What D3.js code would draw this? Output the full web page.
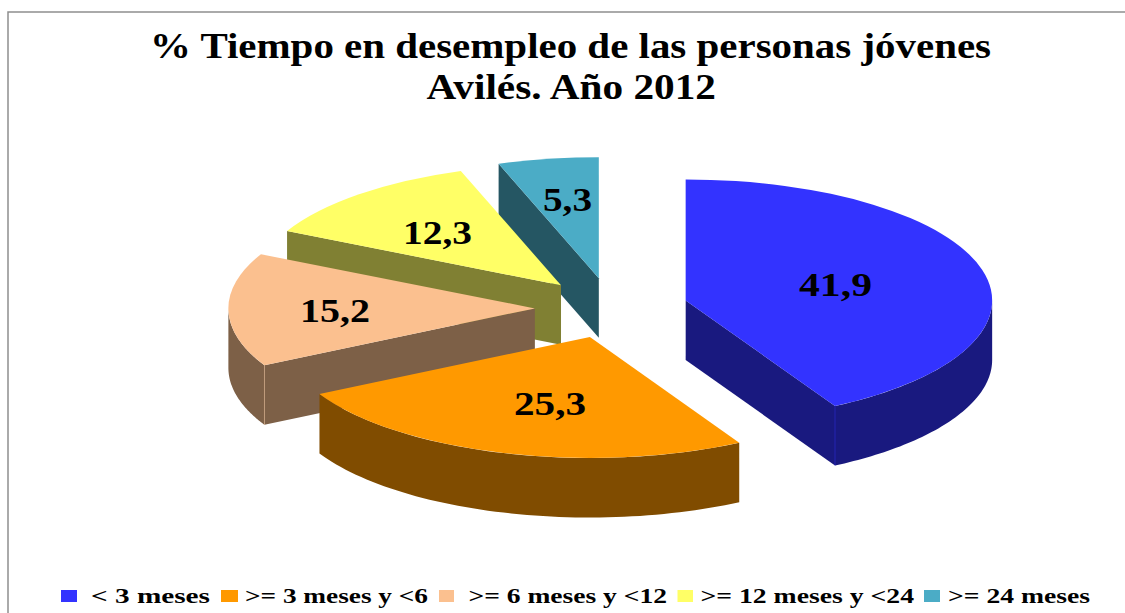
<!DOCTYPE html>
<html>
<head>
<meta charset="utf-8">
<style>
html,body{margin:0;padding:0;background:#fff;overflow:hidden}
svg{display:block}
text{font-family:"Liberation Serif",serif;font-weight:bold;fill:#000}
</style>
<script src="https://cdn.jsdelivr.net/npm/d3@7"></script>
</head>
<body>
<svg id="chart" width="1125" height="613"></svg>
<script>
const titleLines = ["% Tiempo en desempleo de las personas jóvenes", "Avilés. Año 2012"];
const categories = ["< 3 meses", ">= 3 meses y <6", ">= 6 meses y <12", ">= 12 meses y <24", ">= 24 meses"];
const values = [41.9, 25.3, 15.2, 12.3, 5.3];
const valueLabels = ["41,9", "25,3", "15,2", "12,3", "5,3"];
const topColors = ["#3333FF", "#FF9900", "#FBC08F", "#FFFF66", "#4BACC6"];
const sideColors = ["#19197F", "#804C00", "#7D6047", "#808033", "#255663"];

// Layout (style and position only, not data)
const W = 1125, H = 613;
const centre = {x: 611.5, y: 308}, rx = 306.5, ry = 121, depth = 59.5, explode = 0.25;
const titleBoxes = [{x: 150, y: 58, w: 841}, {x: 426.5, y: 99, w: 289.5}];
const labelBoxes = [
  {x: 799, y: 296, w: 73}, {x: 514, y: 415, w: 72}, {x: 300, y: 322, w: 70},
  {x: 403, y: 244, w: 69}, {x: 543, y: 211, w: 49}
];
const legendSwatches = [{x: 61, w: 16}, {x: 221, w: 17}, {x: 439, w: 15}, {x: 677.5, w: 15.5}, {x: 924, w: 16}];
const legendTexts = [{x: 91, w: 119}, {x: 245, w: 183}, {x: 468.5, w: 198.5}, {x: 700.5, w: 213.5}, {x: 948, w: 142}];

const svg = d3.select("#chart");

// Chart frame
svg.append("path")
  .attr("d", d3.line()([[8, H], [8, 12], [W, 12]]))
  .attr("fill", "none").attr("stroke", "#8e8e8e").attr("stroke-width", 1.5);

// Title
svg.selectAll("text.title").data(titleLines).join("text")
  .attr("class", "title")
  .attr("x", (d, i) => titleBoxes[i].x)
  .attr("y", (d, i) => titleBoxes[i].y)
  .attr("font-size", 35)
  .attr("textLength", (d, i) => titleBoxes[i].w)
  .attr("lengthAdjust", "spacingAndGlyphs")
  .text(d => d);

// Pie geometry: d3.pie gives the angles, the scales project them to the tilted ellipse
const pie = d3.pie().sort(null).value(d => d).startAngle(0).endAngle(2 * Math.PI);
const arcs = pie(values);
const sx = d3.scaleLinear().domain([-1, 1]).range([-rx, rx]);
const sy = d3.scaleLinear().domain([-1, 1]).range([-ry, ry]);
const rimPoint = (a, o) => [o.x + sx(Math.sin(a)), o.y - sy(Math.cos(a))];
const sample = (a0, a1) => d3.range(0, 61).map(i => a0 + (a1 - a0) * i / 60);
const line = d3.line();

const slices = arcs.map((a, i) => {
  const mid = (a.startAngle + a.endAngle) / 2;
  return {i, a, apex: {x: centre.x + explode * sx(Math.sin(mid)), y: centre.y - explode * sy(Math.cos(mid))}};
});

// Back to front: the last slices sit behind the earlier ones
const order = [4, 3, 2, 1, 0];
const g = svg.append("g");
order.forEach(idx => {
  const {i, a, apex} = slices[idx];
  const lower = {x: apex.x, y: apex.y + depth};
  const wall = ang => line([[apex.x, apex.y], rimPoint(ang, apex), rimPoint(ang, lower), [lower.x, lower.y]]) + "Z";
  const sg = g.append("g").attr("class", "slice");
  const front = ang => ang > Math.PI / 2 && ang < 3 * Math.PI / 2;

  // Flat cut faces that turn toward the viewer
  const faces = [];
  if (Math.sin(a.startAngle) < 0) faces.push(a.startAngle);
  if (Math.sin(a.endAngle) > 0) faces.push(a.endAngle);
  faces.forEach(ang => sg.append("path").attr("d", wall(ang)).attr("fill", sideColors[i]));

  // Curved rim: only the front half of the ellipse
  const r0 = Math.max(a.startAngle, Math.PI / 2), r1 = Math.min(a.endAngle, 3 * Math.PI / 2);
  if (r1 > r0) {
    const pts = sample(r0, r1);
    sg.append("path")
      .attr("d", line(pts.map(t => rimPoint(t, apex)).concat(pts.slice().reverse().map(t => rimPoint(t, lower)))) + "Z")
      .attr("fill", sideColors[i]);
  }
  // Thin highlight where a cut face meets the rim
  faces.filter(front).forEach(ang => sg.append("path")
    .attr("d", line([rimPoint(ang, apex), rimPoint(ang, lower)]))
    .attr("stroke", topColors[i]).attr("stroke-opacity", 0.4).attr("stroke-width", 1).attr("fill", "none"));

  // Top face
  sg.append("path")
    .attr("d", d3.arc().innerRadius(0).outerRadius(rx)(a))
    .attr("transform", `translate(${apex.x},${apex.y}) scale(1,${ry / rx})`)
    .attr("fill", topColors[i]);
});

// Value labels
svg.selectAll("text.value").data(valueLabels).join("text")
  .attr("class", "value")
  .attr("x", (d, i) => labelBoxes[i].x)
  .attr("y", (d, i) => labelBoxes[i].y)
  .attr("font-size", 34)
  .attr("textLength", (d, i) => labelBoxes[i].w)
  .attr("lengthAdjust", "spacingAndGlyphs")
  .text(d => d);

// Legend
const legend = svg.append("g");
legend.selectAll("rect").data(categories).join("rect")
  .attr("x", (d, i) => legendSwatches[i].x)
  .attr("y", 590).attr("height", 12)
  .attr("width", (d, i) => legendSwatches[i].w)
  .attr("fill", (d, i) => topColors[i]);
legend.selectAll("text").data(categories).join("text")
  .attr("x", (d, i) => legendTexts[i].x)
  .attr("y", 603)
  .attr("font-size", 20)
  .attr("textLength", (d, i) => legendTexts[i].w)
  .attr("lengthAdjust", "spacingAndGlyphs")
  .text(d => d);
</script>
</body>
</html>
